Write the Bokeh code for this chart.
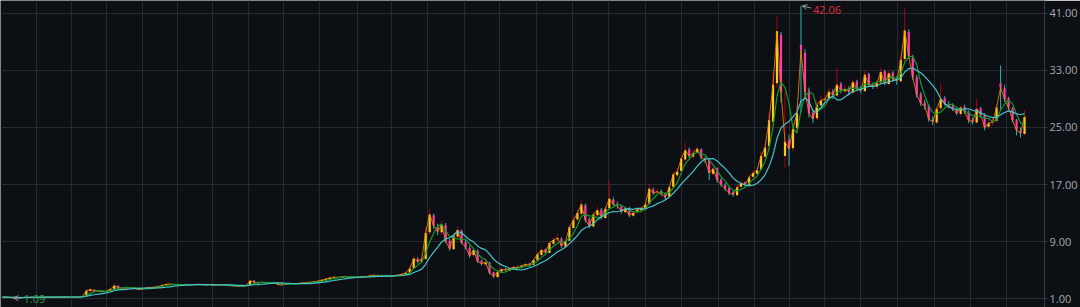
import pandas as pd
from bokeh.plotting import figure
from bokeh.models import (Range1d, LinearAxis, FixedTicker, NumeralTickFormatter,
                          ColumnDataSource, Grid, Arrow, OpenHead)
from bokeh.core.properties import value
from bokeh.embed import file_html
from bokeh.resources import INLINE

# ---------------- data ----------------
closes = [
    1.20, 1.18, 1.12, 1.10, 1.15, 1.13, 1.16, 1.18, 1.17, 1.20,
    1.25, 1.22, 1.20, 1.19, 1.21, 1.20, 1.22, 1.21, 1.20, 1.22,
    1.30, 2.10, 2.25, 2.05, 2.00, 1.95, 2.05, 2.30, 2.80, 2.50,
    2.45, 2.50, 2.55, 2.45, 2.25, 2.30, 2.50, 2.55, 2.60, 2.70,
    2.85, 3.00, 3.05, 2.95, 2.90, 2.95, 3.00, 2.90, 2.95, 3.00,
    2.95, 2.90, 2.95, 2.85, 2.90, 2.95, 2.85, 2.80, 2.75, 2.70,
    2.75, 2.80, 3.50, 3.30, 3.20, 3.25, 3.20, 3.25, 3.20, 2.95,
    2.90, 3.05, 3.10, 3.05, 3.10, 3.20, 3.25, 3.30, 3.35, 3.45,
    3.60, 3.75, 3.90, 4.00, 3.95, 4.05, 4.10, 4.00, 3.95, 4.00,
    4.10, 4.05, 4.20, 4.30, 4.15, 4.25, 4.20, 4.10, 4.20, 4.30,
    4.40, 4.60, 5.20, 6.60, 6.20, 6.50, 10.20, 12.80, 11.20, 10.40,
    11.40, 9.00, 8.00, 9.80, 10.60, 8.80, 8.20, 7.00, 7.80, 6.20,
    5.90, 6.10, 4.60, 4.10, 4.70, 5.10, 5.00, 5.20, 5.40, 5.30,
    5.60, 5.80, 5.70, 6.40, 7.20, 7.80, 7.50, 8.80, 9.20, 9.50,
    8.40, 9.00, 11.00, 12.00, 13.00, 14.20, 12.00, 11.20, 12.80, 13.40,
    12.40, 13.60, 15.00, 14.20, 14.00, 13.20, 13.60, 12.70, 13.00, 13.50,
    13.60, 14.20, 16.40, 15.80, 16.00, 15.70, 15.20, 16.60, 18.40, 18.80,
    20.60, 21.80, 21.00, 21.40, 22.00, 20.80, 20.40, 18.60, 19.20, 17.60,
    17.00, 16.40, 15.80, 15.60, 16.60, 17.20, 17.00, 18.00, 18.60, 19.00,
    21.00, 22.20, 26.00, 31.00, 38.50, 30.00, 23.00, 22.00, 24.80, 27.00,
    35.80, 30.00, 27.00, 26.20, 28.20, 28.80, 29.00, 30.00, 29.60, 31.00,
    30.20, 30.40, 30.00, 31.40, 30.40, 30.20, 32.40, 31.00, 30.80, 31.20,
    32.80, 31.20, 32.60, 31.80, 31.60, 34.50, 38.60, 35.00, 32.00, 29.60,
    28.40, 28.00, 26.20, 25.80, 27.60, 29.00, 28.40, 28.00, 27.60, 27.00,
    27.80, 27.20, 26.00, 25.80, 27.60, 26.80, 25.00, 25.60, 25.80, 27.80,
    30.60, 29.00, 27.80, 26.00, 24.60, 24.20, 26.50,
]
opens = [
    1.18, 1.21, 1.17, 1.13, 1.11, 1.15, 1.13, 1.16, 1.19, 1.17,
    1.20, 1.26, 1.22, 1.20, 1.19, 1.22, 1.20, 1.22, 1.21, 1.20,
    1.22, 1.32, 2.05, 2.24, 2.06, 2.01, 1.94, 2.06, 2.32, 2.78,
    2.52, 2.44, 2.51, 2.56, 2.44, 2.24, 2.31, 2.50, 2.56, 2.61,
    2.70, 2.86, 3.01, 3.04, 2.96, 2.90, 2.96, 3.01, 2.89, 2.96,
    3.01, 2.94, 2.91, 2.96, 2.84, 2.91, 2.94, 2.84, 2.81, 2.74,
    2.70, 2.76, 2.82, 3.48, 3.31, 3.19, 3.26, 3.19, 3.26, 3.18,
    2.96, 2.91, 3.04, 3.11, 3.04, 3.11, 3.19, 3.26, 3.29, 3.36,
    3.44, 3.61, 3.74, 3.91, 4.01, 3.94, 4.06, 4.11, 3.99, 3.94,
    4.01, 4.11, 4.04, 4.21, 4.31, 4.14, 4.26, 4.19, 4.09, 4.21,
    4.29, 4.41, 4.62, 5.24, 6.58, 6.18, 6.55, 10.30, 12.70, 11.10,
    10.30, 11.30, 9.10, 7.90, 9.70, 10.50, 8.90, 8.10, 7.10, 7.70,
    6.30, 5.80, 6.00, 4.70, 4.00, 4.80, 5.10, 4.90, 5.20, 5.40,
    5.30, 5.60, 5.90, 5.70, 6.40, 7.10, 7.90, 7.40, 8.70, 9.30,
    9.40, 8.30, 9.10, 10.90, 12.10, 12.90, 14.10, 12.10, 11.10, 12.70,
    13.50, 12.30, 13.70, 14.90, 14.30, 13.90, 13.10, 13.70, 12.60, 13.10,
    13.40, 13.70, 14.30, 16.30, 15.90, 16.10, 15.60, 15.30, 16.70, 18.30,
    18.90, 20.50, 21.90, 20.90, 21.50, 21.90, 20.70, 20.50, 18.50, 19.30,
    17.70, 16.90, 16.50, 15.90, 15.50, 16.70, 17.30, 16.90, 18.10, 18.50,
    19.10, 20.90, 22.40, 25.80, 31.20, 38.00, 21.00, 23.20, 22.10, 24.90,
    36.60, 35.50, 30.20, 27.10, 26.30, 28.10, 28.90, 29.10, 30.10, 29.50,
    31.10, 30.10, 30.50, 29.90, 31.50, 30.30, 30.10, 32.50, 30.90, 30.70,
    31.30, 32.90, 31.10, 32.70, 31.70, 31.50, 34.60, 38.40, 34.80, 32.10,
    29.70, 28.50, 28.10, 26.10, 25.70, 27.70, 29.10, 28.30, 28.10, 27.50,
    26.90, 27.90, 27.10, 26.10, 25.70, 27.70, 26.70, 25.10, 25.70, 25.90,
    31.20, 30.50, 29.10, 27.70, 26.10, 24.50, 24.10,
]
highs = [
    1.24, 1.23, 1.19, 1.15, 1.18, 1.17, 1.19, 1.21, 1.20, 1.23,
    1.32, 1.28, 1.24, 1.22, 1.24, 1.24, 1.25, 1.25, 1.23, 1.25,
    1.38, 2.30, 2.55, 2.30, 2.12, 2.08, 2.15, 2.45, 3.15, 2.85,
    2.60, 2.62, 2.66, 2.62, 2.48, 2.40, 2.60, 2.66, 2.72, 2.82,
    2.96, 3.14, 3.18, 3.12, 3.04, 3.06, 3.12, 3.06, 3.06, 3.10,
    3.08, 3.02, 3.04, 3.02, 2.98, 3.04, 3.02, 2.92, 2.88, 2.82,
    2.84, 2.92, 3.75, 3.60, 3.38, 3.36, 3.34, 3.36, 3.34, 3.22,
    3.02, 3.14, 3.20, 3.18, 3.20, 3.30, 3.34, 3.40, 3.46, 3.56,
    3.70, 3.88, 4.02, 4.14, 4.10, 4.16, 4.24, 4.16, 4.06, 4.12,
    4.22, 4.20, 4.32, 4.46, 4.36, 4.38, 4.34, 4.28, 4.32, 4.44,
    4.56, 4.80, 5.60, 7.00, 6.80, 7.20, 11.00, 13.60, 12.90, 11.50,
    11.90, 11.60, 9.40, 10.10, 11.10, 10.70, 9.20, 8.40, 8.20, 7.90,
    6.50, 6.40, 6.20, 4.80, 4.90, 5.30, 5.30, 5.40, 5.60, 5.60,
    5.80, 6.00, 6.00, 6.60, 7.50, 8.20, 8.00, 9.10, 9.60, 10.10,
    9.60, 9.30, 11.30, 12.50, 13.40, 14.80, 14.30, 12.40, 13.10, 13.90,
    13.70, 13.90, 17.50, 15.20, 14.60, 14.10, 14.00, 13.90, 13.30, 13.80,
    13.90, 14.60, 17.10, 16.60, 16.40, 16.30, 15.90, 16.90, 18.80, 19.30,
    21.10, 22.90, 22.20, 21.90, 22.30, 22.10, 20.90, 20.70, 19.50, 19.40,
    17.90, 17.20, 16.70, 16.10, 16.90, 17.60, 17.40, 18.30, 19.00, 19.50,
    21.60, 22.80, 27.00, 33.00, 40.60, 38.40, 30.00, 24.00, 25.60, 28.00,
    42.06, 36.00, 30.60, 27.60, 28.80, 29.50, 29.80, 30.60, 30.40, 33.40,
    31.40, 31.00, 30.80, 31.80, 31.70, 30.80, 33.00, 32.70, 31.30, 31.70,
    33.40, 33.10, 33.10, 32.90, 32.20, 35.30, 41.80, 38.80, 35.20, 32.40,
    30.00, 28.90, 28.30, 26.60, 27.90, 31.20, 29.40, 28.70, 28.40, 27.90,
    28.10, 28.20, 27.40, 26.40, 29.00, 27.90, 27.00, 26.00, 26.30, 28.30,
    33.70, 31.00, 29.30, 27.90, 26.20, 25.00, 27.40,
]
lows = [
    1.15, 1.15, 1.10, 1.09, 1.10, 1.11, 1.12, 1.14, 1.14, 1.15,
    1.18, 1.19, 1.17, 1.16, 1.17, 1.17, 1.18, 1.18, 1.17, 1.18,
    1.20, 1.30, 1.95, 1.98, 1.92, 1.88, 1.90, 2.00, 2.25, 2.40,
    2.38, 2.38, 2.44, 2.38, 2.18, 2.18, 2.25, 2.44, 2.48, 2.55,
    2.64, 2.80, 2.92, 2.88, 2.82, 2.84, 2.90, 2.82, 2.84, 2.90,
    2.88, 2.84, 2.86, 2.78, 2.80, 2.86, 2.78, 2.72, 2.68, 2.62,
    2.64, 2.70, 2.78, 3.22, 3.12, 3.12, 3.10, 3.14, 3.10, 2.88,
    2.82, 2.86, 2.98, 2.98, 2.98, 3.04, 3.12, 3.18, 3.22, 3.30,
    3.38, 3.54, 3.68, 3.84, 3.86, 3.88, 3.98, 3.90, 3.86, 3.88,
    3.92, 3.96, 3.98, 4.12, 4.06, 4.08, 4.10, 4.00, 4.02, 4.14,
    4.20, 4.34, 4.50, 5.10, 5.90, 6.00, 6.40, 10.00, 10.80, 9.90,
    10.00, 8.80, 7.70, 7.80, 9.50, 8.60, 7.90, 6.70, 6.90, 6.00,
    5.60, 5.60, 4.40, 3.85, 3.90, 4.60, 4.80, 4.80, 5.10, 5.10,
    5.20, 5.40, 5.40, 5.60, 6.30, 6.90, 7.20, 7.30, 8.50, 9.00,
    8.10, 8.20, 9.00, 10.70, 11.80, 12.70, 11.70, 10.90, 11.00, 12.50,
    12.10, 12.20, 13.50, 14.00, 13.60, 12.90, 12.90, 12.40, 12.40, 12.90,
    13.20, 13.40, 14.10, 15.50, 15.60, 15.40, 14.80, 15.00, 16.50, 18.00,
    18.60, 20.20, 20.70, 20.60, 21.20, 20.50, 20.00, 17.60, 18.30, 17.30,
    16.70, 16.10, 15.50, 15.30, 15.40, 16.40, 16.70, 16.80, 17.80, 18.40,
    19.70, 20.60, 21.60, 24.60, 30.60, 28.50, 19.30, 19.60, 21.60, 24.40,
    27.00, 29.20, 26.40, 25.60, 26.00, 27.80, 28.40, 28.80, 29.00, 29.30,
    29.80, 29.80, 29.50, 29.70, 30.10, 29.80, 30.00, 30.70, 30.40, 30.40,
    31.00, 30.90, 30.90, 31.40, 31.00, 31.30, 34.20, 34.60, 31.70, 29.20,
    28.00, 27.50, 25.80, 25.30, 25.50, 27.40, 28.10, 27.70, 27.30, 26.70,
    26.60, 26.90, 25.60, 25.40, 25.50, 26.40, 24.60, 24.80, 25.30, 25.70,
    27.60, 28.60, 27.50, 25.70, 23.90, 23.60, 23.90,
]
y_ticks = [1, 9, 17, 25, 33, 41]
# vertical grid positions, in bar index units
x_grid = [8.5, 17.25, 26, 35, 43.75, 52.5, 61.5, 70.5, 79.5, 89, 97.5, 106.5,
          115.75, 124.5, 133.75, 142.75, 151.75, 161, 170, 179.25, 188.25,
          197.25, 206, 215, 224.25, 233.5, 242.5, 251.5]

# ---------------- styles ----------------
BG = "#0c0f14"
GRID = "#262930"
AXIS = "#3a3e46"
LABEL = "#a6a9b0"
UP_BODY = "#ffc81e"
UP_WICK = "#a3070f"
DN_BODY = "#ff3aa8"
DN_WICK = "#2fb4ad"
MA_S = "#139a2c"
MA_L = "#46c5cc"

n = len(closes)
df = pd.DataFrame(dict(i=list(range(n)), o=opens, h=highs, l=lows, c=closes))
df["top"] = df[["o", "c"]].max(axis=1)
df["bot"] = df[["o", "c"]].min(axis=1)
df["ma_s"] = df["c"].rolling(4, min_periods=1).mean()
df["ma_l"] = df["c"].rolling(9, min_periods=1).mean()
up = ColumnDataSource(df[df.c >= df.o])
dn = ColumnDataSource(df[df.c < df.o])
src = ColumnDataSource(df)

p = figure(width=1080, height=307, output_backend="svg", toolbar_location=None,
           x_range=Range1d(-0.5, 261.0), y_range=Range1d(-0.26, 42.82),
           x_axis_location=None, y_axis_location=None, min_border=0)
p.background_fill_color = BG
p.border_fill_color = BG
p.outline_line_color = None
for g in list(p.grid):
    g.visible = False

yaxis = LinearAxis(ticker=FixedTicker(ticks=y_ticks),
                   formatter=NumeralTickFormatter(format="0.00"))
yaxis.axis_line_color = AXIS
yaxis.major_tick_line_color = AXIS
yaxis.major_tick_in = 0
yaxis.major_tick_out = 3
yaxis.minor_tick_line_color = None
yaxis.major_label_text_color = LABEL
yaxis.major_label_text_font = "Open Sans"
yaxis.major_label_text_font_size = "11px"
yaxis.major_label_standoff = 2
p.add_layout(yaxis, "right")

p.add_layout(Grid(dimension=1, ticker=FixedTicker(ticks=y_ticks),
                  grid_line_color=GRID, grid_line_width=1))
p.add_layout(Grid(dimension=0, ticker=FixedTicker(ticks=x_grid),
                  grid_line_color=GRID, grid_line_width=1))

# candles
p.segment(x0="i", y0="l", x1="i", y1="h", source=up, line_color=UP_WICK, line_width=1)
p.segment(x0="i", y0="l", x1="i", y1="h", source=dn, line_color=DN_WICK, line_width=1)
p.vbar(x="i", top="top", bottom="bot", width=0.55, source=up,
       fill_color=UP_BODY, line_color=None)
p.vbar(x="i", top="top", bottom="bot", width=0.55, source=dn,
       fill_color=DN_BODY, line_color=None)
p.line("i", "c", source=src, line_color="#ff8a00", line_width=1, line_alpha=0.8)

# moving averages
p.line("i", "ma_s", source=src, line_color=MA_S, line_width=1.2)
p.line("i", "ma_l", source=src, line_color=MA_L, line_width=1.2)

# max / min markers
hmax = max(highs)
imax = highs.index(hmax)
lmin = min(lows)
imin = lows.index(lmin)
p.add_layout(Arrow(end=OpenHead(size=5, line_color="#9a9a9a", line_width=1),
                   x_start=imax + 2.6, y_start=hmax - 0.3, x_end=imax + 0.3, y_end=hmax,
                   line_color="#9a9a9a", line_width=1))
p.text(x=[imax], y=[hmax], text=[f"{hmax:.2f}"], x_offset=12, y_offset=4,
       text_color="#e0303c", text_font=value("Open Sans"), text_font_size="11px",
       text_baseline="middle", text_align="left")
p.add_layout(Arrow(end=OpenHead(size=5, line_color="#9a9a9a", line_width=1),
                   x_start=imin + 1.8, y_start=lmin - 0.05, x_end=imin - 0.3, y_end=lmin,
                   line_color="#9a9a9a", line_width=1))
p.text(x=[imin], y=[lmin], text=[f"{lmin:.2f}"], x_offset=9, y_offset=1,
       text_color="#22a04a", text_font=value("Open Sans"), text_font_size="11px",
       text_baseline="middle", text_align="left")

open("out.html", "w").write(file_html(p, INLINE))
